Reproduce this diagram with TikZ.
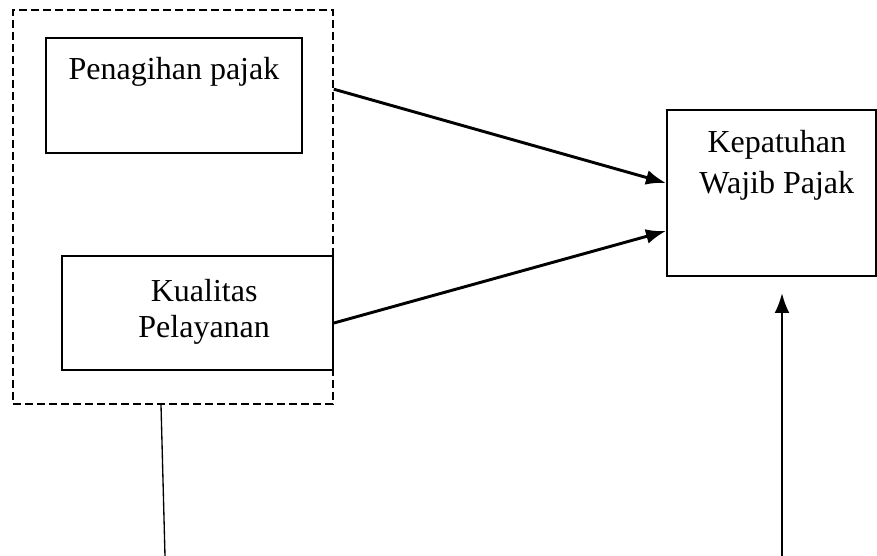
\documentclass[tikz,border=0pt]{standalone}
\usepackage{fontspec}
\setmainfont{Liberation Serif}
\usetikzlibrary{arrows.meta,positioning}

\begin{document}
\begin{tikzpicture}[x=0.375pt, y=-0.375pt,
    box/.style={draw, line width=0.75pt, inner sep=0pt},
    txt/.style={align=center, font=\fontsize{12}{13.5}\selectfont},
    pfeil/.style={-{Latex[length=7.5pt,width=5.6pt]}, line width=1.1pt}]
  \useasboundingbox (0,0) rectangle (877,556);

  % Gruppe (gestrichelt)
  \node[draw, dash pattern=on 3pt off 1.5pt, line width=0.6pt,
        minimum width=120pt, minimum height=147.75pt, inner sep=0pt] (grp) at (173,207) {};

  % Boxen
  \node[box, minimum width=96pt, minimum height=43.125pt] (pena) at (174,95.5) {};
  \node[txt, below=4.2pt of pena.north] (penatxt) {Penagihan pajak};

  \node[box, minimum width=101.6pt, minimum height=42.75pt] (kual) at (197.5,313) {};
  \node[txt, below=5.4pt of kual.north, xshift=2.5pt] (kualtxt) {Kualitas\\Pelayanan};

  \node[box, minimum width=78.4pt, minimum height=62.25pt] (kep) at (771.5,193) {};
  \node[txt, below=4.4pt of kep.north, xshift=2pt] (keptxt) {Kepatuhan\\[2pt]Wajib Pajak};

  % Pfeile
  \coordinate (unten1) at (165,556);
  \coordinate (unten2) at (782,556);
  \coordinate (oben2) at (782,293);
  \draw[pfeil] ([yshift=-30pt]grp.north east) -- ([yshift=3.75pt]kep.west);
  \draw[pfeil] ([yshift=-3.75pt]kual.east) -- ([yshift=-14.25pt]kep.west);
  \draw[pfeil, line width=0.9pt] (unten2) -- (oben2);
  \draw[line width=0.5pt] ([xshift=-4.5pt]grp.south) -- (unten1);
\end{tikzpicture}
\end{document}
